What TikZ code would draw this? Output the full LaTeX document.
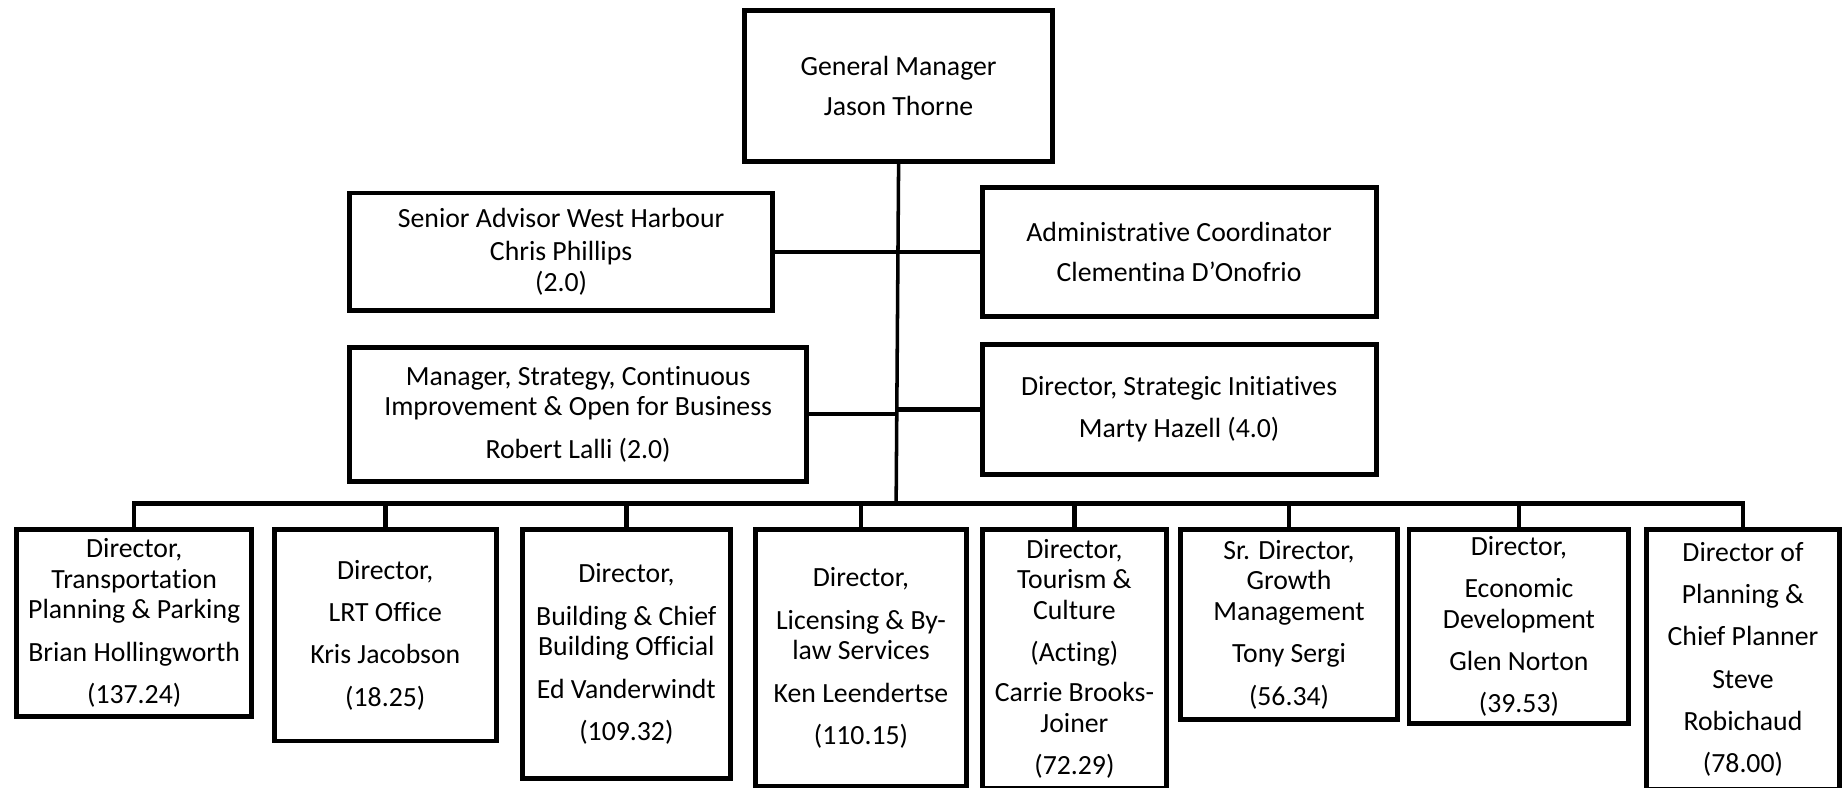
\documentclass[tikz,border=0pt]{standalone}
\usepackage{fontspec}
\setmainfont{Carlito}[Ligatures=NoCommon]
\usetikzlibrary{positioning}

\begin{document}
\begin{tikzpicture}[
    x=0.5pt, y=-0.5pt,
    font=\fontsize{11.8}{13}\selectfont,
    post/.style={draw, line width=2.1pt, align=center, inner sep=0pt, anchor=north west},
    link/.style={line width=1.9pt, line join=miter}
]
\useasboundingbox (0,0) rectangle (1568,670);

\node[post, minimum width=131pt, minimum height=64pt] (gm) at (631,7) {General Manager\\[4pt] Jason Thorne};
\node[post, minimum width=180pt, minimum height=50pt] (adv) at (295,162) {Senior Advisor West Harbour\\[1pt] Chris Phillips\\ (2.0)};
\node[post, minimum width=167.5pt, minimum height=55pt] (adm) at (833,157) {Administrative Coordinator\\[4pt] Clementina D’Onofrio};
\node[post, minimum width=194.5pt, minimum height=57pt] (mgr) at (295,293) {Manager, Strategy, Continuous\\ Improvement \& Open for Business\\[5pt] Robert Lalli (2.0)};
\node[post, minimum width=167.5pt, minimum height=55pt] (dsi) at (833,291) {Director, Strategic Initiatives\\[5pt] Marty Hazell (4.0)};

\node[post, minimum width=100pt, minimum height=79.5pt] (d1) at (12,448) {Director,\\ Transportation\\ Planning \& Parking\\[5pt] Brian Hollingworth\\[5pt] (137.24)};
\node[post, minimum width=94.5pt, minimum height=90pt] (d2) at (231,448) {Director,\\[5pt] LRT Office\\[5pt] Kris Jacobson\\[5pt] (18.25)};
\node[post, minimum width=88.5pt, minimum height=106pt] (d3) at (442,448) {Director,\\[5pt] Building \& Chief\\ Building Official\\[5pt] Ed Vanderwindt\\[5pt] (109.32)};
\node[post, minimum width=90pt, minimum height=109.5pt] (d4) at (640,448) {Director,\\[5pt] Licensing \& By-\\ law Services\\[5pt] Ken Leendertse\\[5pt] (110.15)};
\node[post, minimum width=78.5pt, minimum height=110pt] (d5) at (833,448) {Director,\\ Tourism \&\\ Culture\\[5pt] (Acting)\\[4pt] Carrie Brooks-\\ Joiner\\[5pt] (72.29)};
\node[post, minimum width=92pt, minimum height=81pt] (d6) at (1002,448) {Sr. Director,\\ Growth\\ Management\\[5pt] Tony Sergi\\[5pt] (56.34)};
\node[post, minimum width=93.5pt, minimum height=82.5pt] (d7) at (1196,448) {Director,\\[5pt] Economic\\ Development\\[5pt] Glen Norton\\[5pt] (39.53)};
\node[post, minimum width=82pt, minimum height=110.5pt] (d8) at (1398,448) {Director of\\[5pt] Planning \&\\[5pt] Chief Planner\\[5pt] Steve\\[5pt] Robichaud\\[5pt] (78.00)};

\coordinate (bus) at (762,428);

% trunk and side posts
\draw[link, line width=1.5pt] (gm.south) -- (bus);
\draw[link] (adv.east) -- (adm.west);
\draw[link] (mgr.east) -- (mgr.east -| bus);
\draw[link] (dsi.west) -- (dsi.west -| bus);

% directors
\draw[link] (d1.north) -- (d1.north |- bus) -- (d8.north |- bus) -- (d8.north);
\foreach \b in {d2, d3, d4, d5, d6, d7}
  \draw[link] (\b.north) -- (\b.north |- bus);
\end{tikzpicture}
\end{document}
